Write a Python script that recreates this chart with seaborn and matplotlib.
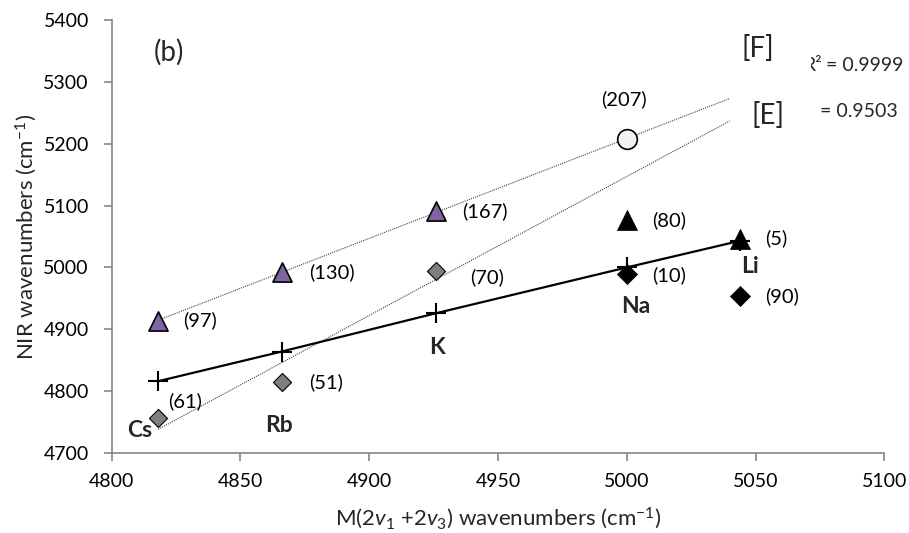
import numpy as np
import pandas as pd
import seaborn as sns
import matplotlib.pyplot as plt
from matplotlib.patches import Rectangle

# cations along the x axis
metals = ["Cs", "Rb", "K", "Na", "Li"]
x_metal = [4818, 4866, 4926, 5000, 5044]
y_cross = [4816, 4864, 4926, 5000, 5043]

# series [F] : purple triangles + open circle
x_purple = [4818, 4866, 4926]
y_purple = [4913, 4993, 5091]
lab_purple = ["(97)", "(130)", "(167)"]
x_circle = [5000]
y_circle = [5207]
lab_circle = ["(207)"]

# series [E] : grey diamonds
x_grey = [4818, 4866, 4926]
y_grey = [4756, 4814, 4995]
lab_grey = ["(61)", "(51)", "(70)"]

# black markers (Na, Li)
x_btri = [5000, 5044]
y_btri = [5077, 5046]
lab_btri = ["(80)", "(5)"]
x_bdia = [5000, 5044]
y_bdia = [4990, 4953]
lab_bdia = ["(10)", "(90)"]

r2_values = ["= 0.9999", "= 0.9503"]

sns.set_theme(style="white")
plt.rcParams["font.family"] = ["Lato", "DejaVu Sans"]
plt.rcParams["mathtext.fontset"] = "custom"
plt.rcParams["mathtext.rm"] = "Lato"
plt.rcParams["mathtext.it"] = "Lato:italic"

fig = plt.figure(figsize=(9.09, 5.33), dpi=100)
ax = fig.add_axes([0.1229, 0.1501, 0.8499, 0.8124])

# linear trendlines (fit + short forward forecast, like Excel)
forecast = 40
xf = np.array(x_purple + x_circle)
yf = np.array(y_purple + y_circle)
pf = np.polyfit(xf, yf, 1)
xx = np.array([xf.min(), xf.max() + forecast])
sns.lineplot(x=xx, y=np.polyval(pf, xx), ax=ax, color="#404040", lw=0.8,
             linestyle=(0, (1, 1)), zorder=2)

xe = np.array(x_grey)
pe = np.polyfit(xe, np.array(y_grey), 1)
xx = np.array([xe.min(), xf.max() + forecast])
sns.lineplot(x=xx, y=np.polyval(pe, xx), ax=ax, color="#404040", lw=0.8,
             linestyle=(0, (1, 1)), zorder=2)

# solid line with crosses
sns.lineplot(x=x_metal, y=y_cross, ax=ax, color="black", lw=1.6, marker="+",
             markersize=14, markeredgewidth=1.5, markeredgecolor="black", zorder=4)

# markers
sns.scatterplot(x=x_purple, y=y_purple, ax=ax, marker="^", s=190, color="#8064A2",
                edgecolor="black", linewidth=1.2, zorder=5)
sns.scatterplot(x=x_circle, y=y_circle, ax=ax, marker="o", s=200, color="#F2F2F2",
                edgecolor="black", linewidth=1.2, zorder=5)
sns.scatterplot(x=x_grey, y=y_grey, ax=ax, marker="D", s=85, color="#7F7F7F",
                edgecolor="black", linewidth=0.8, zorder=5)
sns.scatterplot(x=x_btri, y=y_btri, ax=ax, marker="^", s=210, color="black",
                edgecolor="black", linewidth=0.5, zorder=5)
sns.scatterplot(x=x_bdia, y=y_bdia, ax=ax, marker="D", s=105, color="black",
                edgecolor="black", linewidth=0.5, zorder=5)

# value labels
fs = 14.5
def put(xs, ys, labs, offs, ha="left"):
    for x, y, t, (dx, dy) in zip(xs, ys, labs, offs):
        ax.annotate(t, (x, y), xytext=(dx, dy), textcoords="offset pixels",
                    ha=ha, va="center", fontsize=fs, color="black")

put(x_purple, y_purple, lab_purple, [(25, 1), (27, 0), (26, 0)])
put(x_circle, y_circle, lab_circle, [(-3, 40)], ha="center")
put(x_grey, y_grey, lab_grey, [(10, 17), (27, 0), (34, -7)])
put(x_btri, y_btri, lab_btri, [(25, 0), (25, 1)])
put(x_bdia, y_bdia, lab_bdia, [(25, -2), (25, 0)])

metal_offs = [(-18, -49), (-3, -74), (1, -34), (9, -39), (10, -26)]
for x, y, m, (dx, dy) in zip(x_metal, y_cross, metals, metal_offs):
    ax.annotate(m, (x, y), xytext=(dx, dy), textcoords="offset pixels",
                ha="center", va="center", fontsize=16.5, fontweight="bold")

ax.text(0.054, 0.926, "(b)", transform=ax.transAxes, fontsize=20, va="center")
ax.text(5044.6, 5354.7, "[F]", fontsize=20, va="center", zorder=7)
ax.text(5048.5, 5246.4, "[E]", fontsize=20, va="center", zorder=7)

# R² labels, partly hidden behind the [F]/[E] boxes
for xr, yr, val in zip([5107.3, 5105.4], [5327, 5252], r2_values):
    t = ax.text(xr, yr, val, fontsize=14, ha="right", va="center",
                clip_on=False, zorder=5)
    ax.annotate("R\u00b2", xy=(0, 0.5), xycoords=t, xytext=(-4, 0),
                textcoords="offset pixels", ha="right", va="center",
                fontsize=14, zorder=5)
ax.add_patch(Rectangle((5058, 5295), 13.6, 60, facecolor="white", edgecolor="none",
                       clip_on=False, zorder=6))
ax.add_patch(Rectangle((5058, 5220), 15.5, 60, facecolor="white", edgecolor="none",
                       clip_on=False, zorder=6))

ax.set_xlim(4800, 5100)
ax.set_ylim(4700, 5400)
ax.set_xticks(np.arange(4800, 5101, 50))
ax.set_yticks(np.arange(4700, 5401, 100))

for s in ["top", "right"]:
    ax.spines[s].set_visible(False)
for s in ["left", "bottom"]:
    ax.spines[s].set_color("#868686")
    ax.spines[s].set_linewidth(1.2)
ax.tick_params(axis="both", which="major", direction="out", length=6, width=1.2,
               color="#868686", labelsize=14, labelcolor="black", left=True, bottom=True)
ax.tick_params(axis="y", pad=10.5)
ax.tick_params(axis="x", pad=8.5)

ax.set_xlabel(r"M(2$v_1$ +2$v_3$) wavenumbers (cm$^{-1}$)", fontsize=16)
ax.set_ylabel(r"NIR wavenumbers (cm$^{-1}$)", fontsize=16)
ax.xaxis.label.set_va("center")
ax.yaxis.label.set_va("center")
ax.xaxis.set_label_coords(0.5, -0.150)
ax.yaxis.set_label_coords(-0.110, 0.5)

fig.savefig("out.png", dpi=100)
